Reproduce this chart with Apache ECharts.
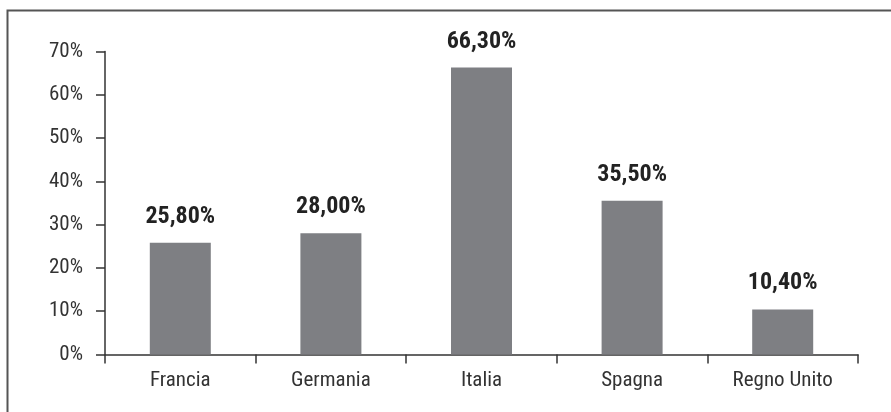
<!DOCTYPE html>
<html><head><meta charset="utf-8">
<script src="https://cdn.jsdelivr.net/npm/echarts@6/dist/echarts.min.js"></script>
<style>html,body{margin:0;padding:0;background:#fff}#c{width:891px;height:412px}</style>
</head><body><div id="c"></div>
<script>
const categories = ["Francia", "Germania", "Italia", "Spagna", "Regno Unito"];
const values = [25.8, 28.0, 66.3, 35.5, 10.4];
const yTicks = [0, 10, 20, 30, 40, 50, 60, 70];
const FONT = "'Roboto Condensed', 'Liberation Sans', Arial, sans-serif";
const chart = echarts.init(document.getElementById('c'));
chart.setOption({
  animation: false,
  backgroundColor: '#fff',
  graphic: [{
    type: 'rect', shape: {x: 7.5, y: 10.5, width: 900, height: 500},
    style: {fill: 'none', stroke: '#555', lineWidth: 2}, silent: true
  }],
  grid: {left: 105, right: 33, top: 51.5, bottom: 57.5, containLabel: false},
  xAxis: {
    type: 'category', data: categories,
    axisLine: {lineStyle: {color: '#333', width: 1.5}},
    axisTick: {show: true, length: 9, alignWithLabel: false, lineStyle: {color: '#333', width: 1.5}},
    axisLabel: {color: '#333', fontSize: 21, fontFamily: FONT, margin: 16, interval: 0}
  },
  yAxis: {
    type: 'value', min: yTicks[0], max: yTicks[yTicks.length - 1], interval: 10,
    splitLine: {show: false},
    axisLine: {show: true, lineStyle: {color: '#333', width: 1.5}},
    axisTick: {show: true, length: 9, lineStyle: {color: '#333', width: 1.5}},
    axisLabel: {color: '#333', fontSize: 21, fontFamily: FONT, margin: 22, formatter: v => v + '%'}
  },
  series: [{
    type: 'bar', data: values, barWidth: 61,
    itemStyle: {color: '#7e7f83'},
    label: {
      show: true, position: 'top', distance: 14,
      color: '#222', fontSize: 24, fontWeight: 'bold', fontFamily: FONT,
      formatter: p => p.value.toFixed(2).replace('.', ',') + '%'
    }
  }]
});
</script></body></html>
